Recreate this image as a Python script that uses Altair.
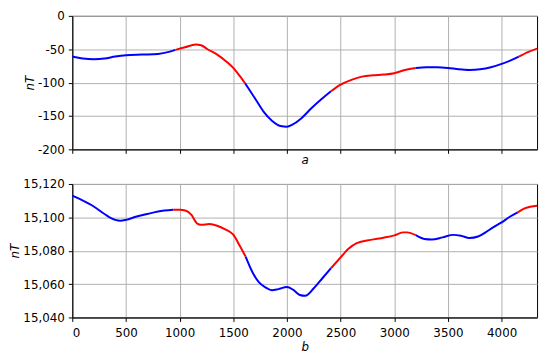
import altair as alt
import pandas as pd

# ---- data ----
x_a = [0, 100, 200, 300, 400, 500, 650, 800, 900, 960, 1050, 1150, 1200, 1260, 1350, 1440, 1500, 1560, 1610,
       1700, 1780, 1860, 1940, 2000, 2050, 2130, 2230, 2320, 2410, 2500, 2600, 2700, 2800, 2900, 3000, 3100, 3200,
       3300, 3400, 3500, 3600, 3700, 3800, 3900, 4000, 4080, 4160, 4250, 4330]
v_a = [-61, -64, -65, -64, -61, -59, -58, -57, -54, -51, -47, -43, -44, -50, -58, -69, -78, -90, -101,
       -123, -143, -157, -165, -166, -163, -154, -138, -125, -113, -103, -96, -91, -89, -88, -86, -81, -78,
       -77, -77, -78, -80, -81, -80, -77, -72, -67, -61, -54, -49]
breaks_a = [960, 1610, 2410, 3200, 4160]

x_b = [0, 100, 200, 300, 400, 450, 500, 600, 700, 800, 940, 1000, 1060, 1110, 1160, 1200, 1280, 1350, 1420, 1500,
       1560, 1615, 1680, 1740, 1800, 1860, 1920, 2000, 2060, 2120, 2170, 2250, 2330, 2410, 2500, 2570, 2650, 2780,
       2900, 3000, 3080, 3120, 3200, 3280, 3350, 3450, 3550, 3620, 3700, 3780, 3850, 3920, 4000, 4080, 4150, 4220, 4330]
v_b = [15113, 15110, 15106.5, 15102, 15098.5, 15098, 15098.5, 15100.5, 15102, 15103.5, 15104.5, 15104.5, 15104,
       15101.5, 15096.5, 15095.5, 15096, 15095, 15093, 15089.6, 15083, 15076.5, 15067, 15061, 15058, 15056.3, 15057,
       15058.3, 15056.5, 15053.5, 15053, 15057.5, 15063.5, 15069.5, 15076, 15081, 15084.5, 15086.5, 15087.8, 15089.2,
       15091, 15091, 15089.3, 15087, 15086.7, 15088, 15089.5, 15089, 15087.6, 15088.5, 15091, 15094, 15097, 15100.5,
       15103, 15105.5, 15107]
breaks_b = [940, 1615, 2410, 3200, 4150]

seg_colors = ["blue", "red", "blue", "red", "blue", "red"]
x_ticks = [0, 500, 1000, 1500, 2000, 2500, 3000, 3500, 4000]
y_ticks_a = [0, -50, -100, -150, -200]
y_ticks_b = [15040, 15060, 15080, 15100, 15120]


def segments(xs, vs, breaks):
    rows = []
    bounds = [xs[0]] + breaks + [xs[-1]]
    for i in range(len(bounds) - 1):
        lo, hi = bounds[i], bounds[i + 1]
        for x, v in zip(xs, vs):
            if lo <= x <= hi:
                rows.append({"x": x, "v": v, "seg": i, "c": seg_colors[i]})
    return pd.DataFrame(rows)


df_a = segments(x_a, v_a, breaks_a)
df_b = segments(x_b, v_b, breaks_b)

FONT = "DejaVu Sans"
FS = 12
W, H = 470, 135
color = alt.Color("c:N", scale=alt.Scale(domain=["blue", "red"], range=["#0000ff", "#ff0000"]), legend=None)
xscale = alt.Scale(domain=[0, 4330], nice=False, zero=False)

top = alt.Chart(df_a).mark_line(strokeWidth=2, interpolate="monotone").encode(
    x=alt.X("x:Q", scale=xscale,
            axis=alt.Axis(values=x_ticks, labels=False, title="a", titleFontStyle="italic",
                          titlePadding=1)),
    y=alt.Y("v:Q", scale=alt.Scale(domain=[-200, 0], nice=False),
            axis=alt.Axis(values=y_ticks_a, title="nT", titleFontStyle="italic",
                          labelExpr="'' + datum.value", titlePadding=1)),
    color=color,
    detail="seg:N",
    order="x:Q",
).properties(width=W, height=H)

bottom = alt.Chart(df_b).mark_line(strokeWidth=2, interpolate="monotone").encode(
    x=alt.X("x:Q", scale=xscale,
            axis=alt.Axis(values=x_ticks, format="d", title="b", titleFontStyle="italic",
                          titlePadding=3, labelPadding=6)),
    y=alt.Y("v:Q", scale=alt.Scale(domain=[15040, 15120], nice=False, zero=False),
            axis=alt.Axis(values=y_ticks_b, format=",d", title="nT", titleFontStyle="italic",
                          titlePadding=1)),
    color=color,
    detail="seg:N",
    order="x:Q",
).properties(width=W, height=H)

chart = alt.vconcat(top, bottom, spacing=11).properties(
    padding={"left": 0, "top": -1, "right": 0, "bottom": 0}
).configure_view(
    stroke="black", strokeWidth=1
).configure_axis(
    labelFont=FONT, labelFontSize=FS, labelColor="black",
    titleFont=FONT, titleFontSize=FS, titleColor="black", titleFontWeight="normal",
    domainColor="black", tickColor="black", tickSize=4, labelPadding=4,
    gridColor="#b0b0b0", gridWidth=1, grid=True,
)

chart.save("out.html", embed_options={"renderer": "svg", "actions": False})
